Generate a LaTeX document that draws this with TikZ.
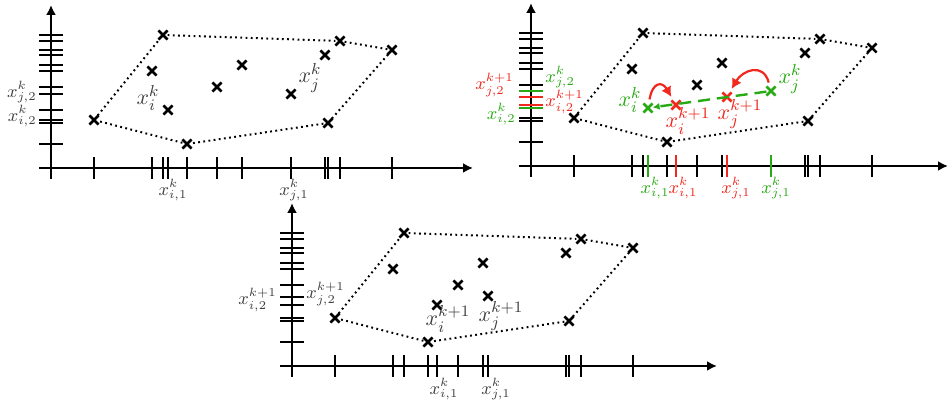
\documentclass[tikz,border=0pt]{standalone}
\usepackage{amsmath}
\usepackage{xcolor}
\usepackage{tikz}
\usetikzlibrary{arrows.meta,shapes.misc}

\definecolor{oldgreen}{RGB}{40,170,20}
\definecolor{newred}{RGB}{240,40,30}

% points shared by all three panels (name/x/y)
\newcommand{\ptlist}{a/43/48,b/112/133,c/289/127,d/341/118,e/274/113,f/101/97,g/191/103,h/166/81,m/277/45,l/136/24}

\tikzset{
  pt/.style={draw,cross out,minimum size=4.6pt,inner sep=0pt,outer sep=0pt,line width=1.25pt},
  axis/.style={line width=1.1pt,-{Latex[length=5pt,width=5pt]}},
  tick/.style={line width=1pt},
  hull/.style={line width=1pt,dash pattern=on 0.9pt off 1.7pt},
  lbl/.style={text=black!75,font=\small,inner sep=0pt},
  big/.style={text=black!75,font=\fontsize{11}{13}\selectfont,inner sep=0pt},
}

\begin{document}
\begin{tikzpicture}[x=0.5pt,y=0.5pt]
  \useasboundingbox (0,0) rectangle (949,405);

  % iteration k
  \begin{scope}[shift={(51,237)}]
    \draw[axis] (-12,0) -- (422,0);
    \draw[axis] (0,-11) -- (0,163);
    \foreach \n/\x/\y in \ptlist {
      \node[pt] (L\n) at (\x,\y) {};
      \draw[tick] (\x,-11) -- (\x,11);
      \draw[tick] (-12,\y) -- (12,\y);
    }
    \node[pt] (Li) at (117,58) {};
    \node[pt] (Lj) at (240,74) {};
    \foreach \x/\y in {117/58,240/74} {
      \draw[tick] (\x,-11) -- (\x,11);
      \draw[tick] (-12,\y) -- (12,\y);
    }
    \draw[hull] (La) -- (Lb) -- (Lc) -- (Ld) -- (Lm) -- (Ll) -- (La);
    \node[big] at ([shift={(-20,12)}]Li) {$x_i^k$};
    \node[big] at ([shift={(19,16)}]Lj) {$x_j^k$};
    \node[lbl,anchor=east] at (-14,76) {$x_{j,2}^k$};
    \node[lbl,anchor=east] at (-14,52) {$x_{i,2}^k$};
    \node[lbl] at (122,-22) {$x_{i,1}^k$};
    \node[lbl] at (243,-22) {$x_{j,1}^k$};
  \end{scope}

  % the move
  \begin{scope}[shift={(531,239)}]
    \draw[axis] (-12,0) -- (417,0);
    \draw[axis] (0,-11) -- (0,163);
    \foreach \n/\x/\y in \ptlist {
      \node[pt] (R\n) at (\x,\y) {};
      \draw[tick] (\x,-11) -- (\x,11);
      \draw[tick] (-12,\y) -- (12,\y);
    }
    \node[pt,oldgreen] (Ri) at (117,58) {};
    \node[pt,oldgreen] (Rj) at (240,75) {};
    \node[pt,newred] (Rip) at (145,61) {};
    \node[pt,newred] (Rjp) at (196,69) {};
    \foreach \x/\y/\c in {117/58/oldgreen,240/75/oldgreen,145/61/newred,196/69/newred} {
      \draw[tick,\c] (\x,-11) -- (\x,11);
      \draw[tick,\c] (-12,\y) -- (12,\y);
    }
    \draw[hull] (Ra) -- (Rb) -- (Rc) -- (Rd) -- (Rm) -- (Rl) -- (Ra);
    \draw[oldgreen,line width=1.2pt,dash pattern=on 6pt off 3.5pt,
      -{Latex[length=3.5pt,width=3.5pt]}] (Rj) -- (Ri);
    \draw[newred,line width=1.1pt,shorten <=2pt,shorten >=2pt,
      -{Latex[length=5pt,width=5.5pt]}] (Ri) to[out=80,in=120,looseness=2.3] (Rip);
    \draw[newred,line width=1.1pt,shorten <=2pt,shorten >=2pt,
      -{Latex[length=5pt,width=5.5pt]}] (Rj) to[out=105,in=60,looseness=1.6] (Rjp);
    \node[big,text=oldgreen] at ([shift={(-18,8)}]Ri) {$x_i^k$};
    \node[big,text=oldgreen] at ([shift={(19,12)}]Rj) {$x_j^k$};
    \node[big,text=newred] at ([shift={(12,-16)}]Rip) {$x_i^{k+1}$};
    \node[big,text=newred] at ([shift={(13,-17)}]Rjp) {$x_j^{k+1}$};
    \node[lbl,text=newred,anchor=east] at (-17,81) {$x_{j,2}^{k+1}$};
    \node[lbl,text=oldgreen,anchor=east] at (-15,52) {$x_{i,2}^k$};
    \node[lbl,text=oldgreen,anchor=west] at (14,89) {$x_{j,2}^k$};
    \node[lbl,text=newred,anchor=west] at (14,64) {$x_{i,2}^{k+1}$};
    \node[lbl,text=oldgreen] at (124,-22) {$x_{i,1}^k$};
    \node[lbl,text=newred] at (152,-22) {$x_{i,1}^k$};
    \node[lbl,text=newred] at (205,-22) {$x_{j,1}^k$};
    \node[lbl,text=oldgreen] at (245,-22) {$x_{j,1}^k$};
  \end{scope}

  % iteration k+1
  \begin{scope}[shift={(292,39)}]
    \draw[axis] (-12,0) -- (425,0);
    \draw[axis] (0,-11) -- (0,163);
    \foreach \n/\x/\y in \ptlist {
      \node[pt] (B\n) at (\x,\y) {};
      \draw[tick] (\x,-11) -- (\x,11);
      \draw[tick] (-12,\y) -- (12,\y);
    }
    \node[pt] (Bip) at (145,61) {};
    \node[pt] (Bjp) at (196,70) {};
    \foreach \x/\y in {145/61,196/69} {
      \draw[tick] (\x,-11) -- (\x,11);
      \draw[tick] (-12,\y) -- (12,\y);
    }
    \draw[hull] (Ba) -- (Bb) -- (Bc) -- (Bd) -- (Bm) -- (Bl) -- (Ba);
    \node[big] at ([shift={(11,-14)}]Bip) {$x_i^{k+1}$};
    \node[big] at ([shift={(13,-20)}]Bjp) {$x_j^{k+1}$};
    \node[lbl,anchor=east] at (-15,66) {$x_{i,2}^{k+1}$};
    \node[lbl,anchor=west] at (14,72) {$x_{j,2}^{k+1}$};
    \node[lbl] at (152,-23) {$x_{i,1}^k$};
    \node[lbl] at (204,-23) {$x_{j,1}^k$};
  \end{scope}
\end{tikzpicture}
\end{document}
